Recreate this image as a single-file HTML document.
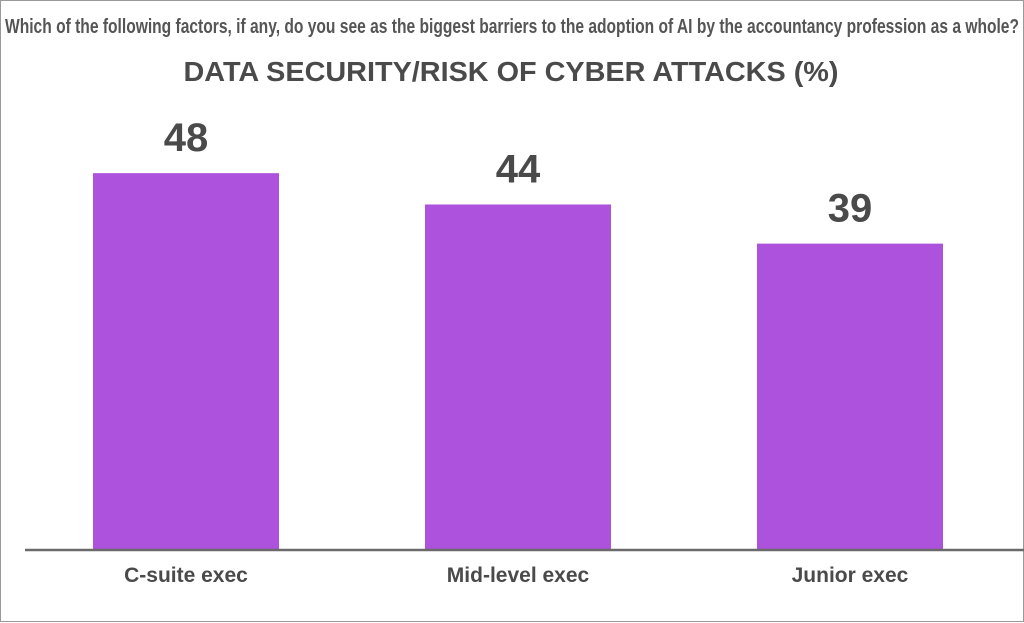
<!DOCTYPE html>
<html><head><meta charset="utf-8"><style>
html,body{margin:0;padding:0;background:#fff;}
svg{display:block;font-family:"Liberation Sans",sans-serif;}
</style></head><body>
<svg id="chart" width="1024" height="623" viewBox="0 0 1024 623">
<rect x="0.5" y="0.5" width="1023" height="621" fill="#fff" stroke="#999" stroke-width="1"/>
<text x="512" y="33" text-anchor="middle" font-size="20" font-weight="bold" fill="#555" textLength="1014" lengthAdjust="spacingAndGlyphs">Which of the following factors, if any, do you see as the biggest barriers to the adoption of AI by the accountancy profession as a whole?</text>
<text x="511" y="81" text-anchor="middle" font-size="28" font-weight="bold" fill="#4a4a4a" textLength="655" lengthAdjust="spacingAndGlyphs">DATA SECURITY/RISK OF CYBER ATTACKS (%)</text>
<g id="bars"></g>
<line x1="25" y1="550" x2="1024" y2="550" stroke="#6a6a6a" stroke-width="2.5"/>
</svg>
<script>
const categories = ["C-suite exec", "Mid-level exec", "Junior exec"];
const values = [48, 44, 39];
const labels = ["48", "44", "39"];
const NS = "http://www.w3.org/2000/svg";
const baseY = 549, pxPerUnit = 7.83;
const y = v => baseY - v * pxPerUnit;
const xCenter = i => 186 + i * 332;
const barW = 186;
const g = document.getElementById("bars");
categories.forEach((c, i) => {
  const r = document.createElementNS(NS, "rect");
  r.setAttribute("x", xCenter(i) - barW / 2);
  r.setAttribute("y", y(values[i]));
  r.setAttribute("width", barW);
  r.setAttribute("height", baseY - y(values[i]));
  r.setAttribute("fill", "#ad52dd");
  
  
  g.appendChild(r);
  const t = document.createElementNS(NS, "text");
  t.setAttribute("x", xCenter(i));
  t.setAttribute("y", y(values[i]) - 22);
  t.setAttribute("text-anchor", "middle");
  t.setAttribute("font-size", "40");
  t.setAttribute("font-weight", "bold");
  t.setAttribute("fill", "#4a4a4a");
  t.textContent = labels[i];
  
  
  g.appendChild(t);
  const l = document.createElementNS(NS, "text");
  l.setAttribute("x", xCenter(i));
  l.setAttribute("y", 582);
  l.setAttribute("text-anchor", "middle");
  l.setAttribute("font-size", "21");
  l.setAttribute("font-weight", "bold");
  l.setAttribute("fill", "#4a4a4a");
  l.textContent = c;
  
  
  g.appendChild(l);
});
</script>
</body></html>
